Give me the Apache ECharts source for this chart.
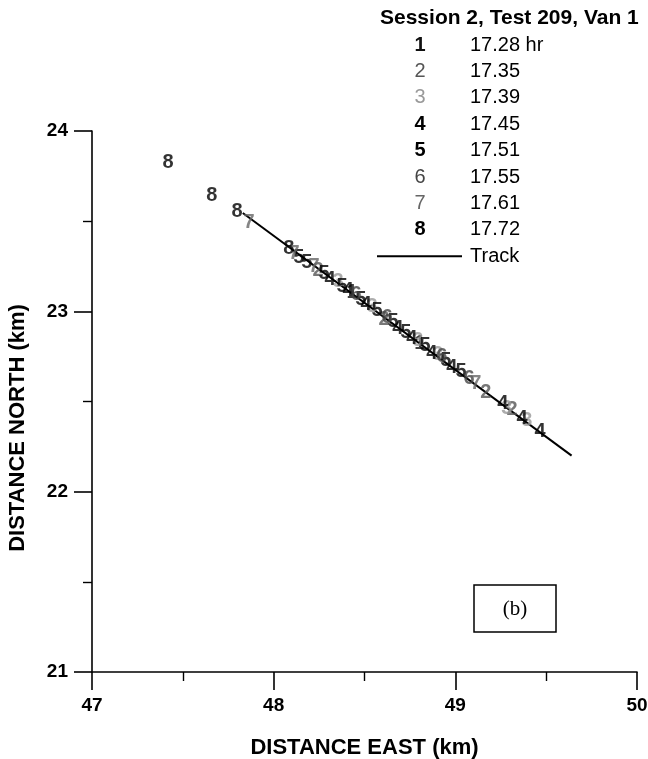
<!DOCTYPE html>
<html>
<head>
<meta charset="utf-8">
<script src="https://cdn.jsdelivr.net/npm/echarts@6/dist/echarts.min.js"></script>
<style>html,body{margin:0;padding:0;background:#fff}#c{width:648px;height:759px}</style>
</head>
<body>
<div id="c"></div>
<script>
// ---- data ----
const legendTitle = 'Session 2, Test 209, Van 1';
const sessionIds = ['1','2','3','4','5','6','7','8'];
const sessionTimes = ['17.28 hr','17.35','17.39','17.45','17.51','17.55','17.61','17.72'];
const xTicks = [47, 48, 49, 50];
const yTicks = [21, 22, 23, 24];
const track = [[47.83, 23.545], [49.64, 22.20]];
const s1 = [[48.431,23.107],[48.805,22.824]];
const s2 = [[48.244,23.229],[48.607,22.957],[49.168,22.552],[49.312,22.453]];
const s3 = [[48.354,23.163],[48.541,23.029],[48.794,22.841],[48.904,22.758],[49.284,22.464],[49.394,22.392]];
const s4 = [[48.310,23.179],[48.409,23.113],[48.508,23.040],[48.684,22.907],[48.761,22.852],[48.871,22.769],[48.981,22.691],[49.262,22.491],[49.367,22.408],[49.466,22.331]];
const s5 = [[48.139,23.301],[48.183,23.273],[48.277,23.212],[48.376,23.140],[48.480,23.068],[48.569,23.002],[48.657,22.941],[48.728,22.885],[48.833,22.813],[48.948,22.730],[49.031,22.669]];
const s6 = [[48.453,23.096],[48.624,22.968],[48.926,22.747],[49.075,22.630]];
const s7 = [[47.864,23.495],[48.112,23.323],[48.222,23.246],[49.113,22.602]];
const s8 = [[47.418,23.823],[47.660,23.645],[47.798,23.556],[48.084,23.346]];
const sessionData = [s1,s2,s3,s4,s5,s6,s7,s8];
const panelLabel = '(b)';

// ---- styles ----
const sessionColors = ['#111','#555','#999','#000','#000','#444','#666','#000'];
const sessionWeights = ['bold','normal','normal','bold','bold','normal','normal','bold'];
const FONT = 'Liberation Sans, Arial, Helvetica, sans-serif';

const chart = echarts.init(document.getElementById('c'), null, {renderer:'canvas'});

const scatterSeries = sessionData.map((d, i) => ({
  type: 'scatter',
  name: sessionIds[i],
  data: d,
  symbolSize: 1,
  itemStyle: {color: 'rgba(0,0,0,0)'},
  z: 3,
  label: {
    show: true, position: 'inside', formatter: sessionIds[i],
    color: sessionColors[i], fontSize: 20, fontWeight: 'bold', fontFamily: FONT
  },
  labelLayout: {hideOverlap: false},
  emphasis: {disabled: true}
}));

const legendX0 = 380, rowY0 = 45, rowDy = 26.4;
const graphics = [];
graphics.push({type:'text', x: legendX0, y: 18, style:{text: legendTitle, font: 'bold 21px ' + FONT, fill:'#000', verticalAlign:'middle'}});
sessionIds.forEach((id, i) => {
  const y = rowY0 + rowDy * i;
  graphics.push({type:'text', x: 420, y: y, style:{text: id, font: sessionWeights[i] + ' 20px ' + FONT, fill: sessionColors[i], align:'center', verticalAlign:'middle'}});
  graphics.push({type:'text', x: 470, y: y, style:{text: sessionTimes[i], font: '20px ' + FONT, fill:'#000', align:'left', verticalAlign:'middle'}});
});
const trackY = rowY0 + rowDy * 8;
graphics.push({type:'line', shape:{x1:377, y1:trackY, x2:462, y2:trackY}, style:{stroke:'#000', lineWidth:2}});
graphics.push({type:'text', x: 470, y: trackY, style:{text:'Track', font:'20px ' + FONT, fill:'#000', align:'left', verticalAlign:'middle'}});
// panel label box
graphics.push({type:'rect', shape:{x:474, y:585, width:82, height:47}, style:{fill:'#fff', stroke:'#000', lineWidth:1.5}});
graphics.push({type:'text', x: 515, y: 609, style:{text: panelLabel, font:'21px Liberation Serif, Times New Roman, serif', fill:'#000', align:'center', verticalAlign:'middle'}});
// y axis title
graphics.push({type:'text', x: 18, y: 428, rotation: Math.PI/2, style:{text:'DISTANCE NORTH (km)', font:'bold 22px ' + FONT, fill:'#000', align:'center', verticalAlign:'middle'}});

const axisCommon = {
  type: 'value',
  interval: 1,
  axisLine: {show: true, onZero: false, lineStyle: {color:'#000', width: 1.6}},
  axisTick: {show: true, inside: false, length: 18, lineStyle: {color:'#000', width: 1.6}},
  minorTick: {show: true, splitNumber: 2, length: 9, lineStyle: {color:'#000', width: 1.4}},
  splitLine: {show: false},
  minorSplitLine: {show: false},
  axisLabel: {color:'#000', fontSize: 19, fontWeight:'bold', fontFamily: FONT}
};

chart.setOption({
  animation: false,
  backgroundColor: '#fff',
  grid: {left: 92, right: 11, top: 131, bottom: 87, containLabel: false, outerBoundsMode: 'none'},
  xAxis: Object.assign({}, axisCommon, {
    min: xTicks[0], max: xTicks[xTicks.length-1],
    axisLabel: Object.assign({}, axisCommon.axisLabel, {margin: 24}),
    name: 'DISTANCE EAST (km)', nameLocation: 'middle', nameGap: 65,
    nameTextStyle: {color:'#000', fontSize: 22, fontWeight:'bold', fontFamily: FONT}
  }),
  yAxis: Object.assign({}, axisCommon, {
    min: yTicks[0], max: yTicks[yTicks.length-1],
    axisLabel: Object.assign({}, axisCommon.axisLabel, {margin: 24})
  }),
  graphic: graphics,
  series: [{
    type: 'line', name: 'Track', data: track, symbol: 'none', z: 2,
    lineStyle: {color:'#000', width: 2}, emphasis: {disabled: true}
  }].concat(scatterSeries)
});
</script>
</body>
</html>
